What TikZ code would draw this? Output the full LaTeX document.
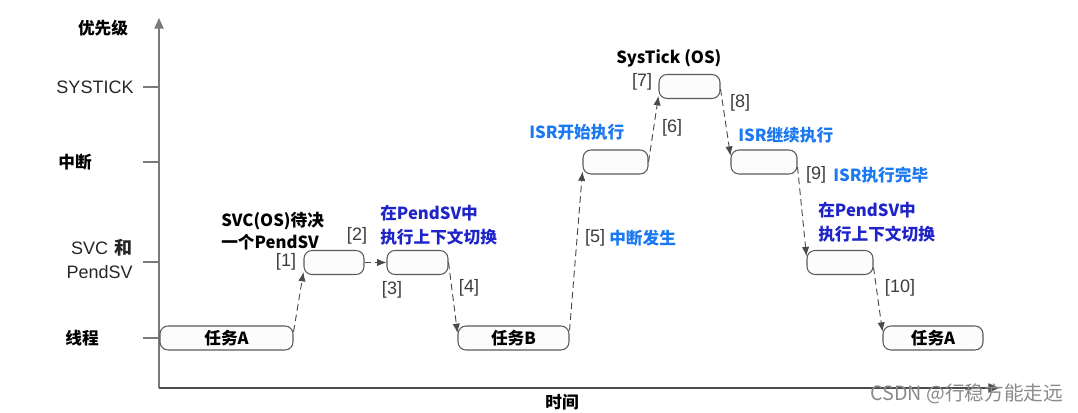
\documentclass[tikz,border=0pt]{standalone}
\usepackage{fontspec}
\setmainfont{Liberation Sans}
\newfontfamily\cjk{Noto Sans CJK SC}
\usetikzlibrary{arrows.meta,calc}
\definecolor{boxgray}{HTML}{5A5A5A}
\definecolor{boxfill}{HTML}{FCFCFC}
\definecolor{axisgray}{HTML}{7A7A7A}
\definecolor{flowgray}{HTML}{4A4A4A}
\definecolor{darkblue}{HTML}{1F24C8}
\definecolor{lightblue}{HTML}{1A78F0}
\definecolor{numgray}{HTML}{3C3C3C}
\definecolor{wmgray}{HTML}{8A8A8A}
\begin{document}
\begin{tikzpicture}[x=0.75pt,y=-0.75pt,
  box/.style={draw=boxgray,line width=0.8pt,rounded corners=6pt,fill=boxfill,minimum height=18pt,inner sep=0pt,font=\cjk\bfseries\fontsize{12.5}{14}\selectfont},
  flow/.style={draw=flowgray,line width=0.7pt,dash pattern=on 5pt off 3pt,-{Latex[length=7pt,width=5.5pt]}},
  axis/.style={draw=axisgray,line width=1pt},
  tick/.style={draw=axisgray,line width=0.9pt},
  cjklab/.style={font=\cjk\bfseries\fontsize{12.5}{14}\selectfont,inner sep=0pt},
  axlab/.style={font=\fontsize{13.5}{16}\selectfont,text=black!85,inner sep=0pt},
  num/.style={font=\fontsize{13.5}{16}\selectfont,text=numgray,inner sep=0pt},
  blab/.style={font=\cjk\bfseries\fontsize{12.5}{18}\selectfont,text=darkblue,align=left,inner sep=0pt,anchor=west},
  lblab/.style={font=\cjk\bfseries\fontsize{12.5}{14}\selectfont,text=lightblue,inner sep=0pt,anchor=west}]
\useasboundingbox (0,0) rectangle (1078,413);
% axes
\coordinate (O) at (159,388);
\coordinate (Ytop) at (159,18);
\coordinate (Xend) at (999,388);
\draw[axis,-{Triangle[length=8pt,width=7pt]}] (O) -- (Ytop);
\draw[draw=black!70,line width=0.9pt,-{Triangle[length=8pt,width=7pt]}] (O) -- (Xend);
% ticks
\foreach \yy in {87,162,262,338} \draw[tick] (143,\yy) -- (159,\yy);
% axis labels
\node[cjklab] (prio) at (103,28) {优先级};
\node[axlab] (lsys) at (95,87) {SYSTICK};
\node[cjklab] (lint) at (75,162) {中断};
\node[axlab,align=right,anchor=east] (lsvc) at (133,259) {SVC\hspace{5pt}{\cjk\bfseries 和}\hspace{7.5pt}\\[2pt]PendSV};
\node[cjklab] (lthr) at (82,338) {线程};
\node[cjklab] (ltime) at (562,402) {时间};
% boxes
\node[box,minimum width=99.75pt] (taskA) at (226.5,338) {任务A\hspace{12pt}};
\node[box,minimum width=45pt] (svc) at (334,262.5) {};
\node[box,minimum width=45.75pt] (psv1) at (417.5,262.5) {};
\node[box,minimum width=83.25pt] (taskB) at (513.5,338) {任务B\hspace{12pt}};
\node[box,minimum width=48.75pt] (isr1) at (615.5,162) {};
\node[box,minimum width=45.75pt] (systick) at (689.5,86.5) {};
\node[box,minimum width=49.5pt] (isr2) at (764,162) {};
\node[box,minimum width=49.5pt] (psv2) at (840,262.5) {};
\node[box,minimum width=75pt] (taskA2) at (933,338) {任务A\hspace{12pt}};
% connectors
\draw[flow] ($(taskA.north east)!0.25!(taskA.south east)$) -- ($(svc.south west)!0.12!(svc.north west)$);
\draw[flow] (svc.east) -- (psv1.west);
\draw[flow] (psv1.east) -- ($(taskB.north west)!0.3!(taskB.south west)$);
\draw[flow] ($(taskB.north east)!0.2!(taskB.south east)$) -- ($(isr1.south west)!0.12!(isr1.north west)$);
\draw[flow] (isr1.east) -- ($(systick.south west)!0.12!(systick.north west)$);
\draw[flow] ($(systick.north east)!0.6!(systick.south east)$) -- ($(isr2.north west)!0.25!(isr2.south west)$);
\draw[flow] ($(isr2.north east)!0.7!(isr2.south east)$) -- ($(psv2.north west)!0.25!(psv2.south west)$);
\draw[flow] ($(psv2.north east)!0.7!(psv2.south east)$) -- ($(taskA2.north west)!0.25!(taskA2.south west)$);
% step numbers
\node[num] (n1) at (286,262) {[1]};
\node[num] (n2) at (357,236) {[2]};
\node[num] (n3) at (392,290) {[3]};
\node[num] (n4) at (469,288) {[4]};
\node[num] (n5) at (595,238) {[5]};
\node[num] (n6) at (672,128) {[6]};
\node[num] (n7) at (642,82) {[7]};
\node[num] (n8) at (740,103) {[8]};
\node[num] (n9) at (816,175) {[9]};
\node[num] (n10) at (900,288) {[10]};
% annotations
\node[cjklab,align=left,anchor=west,font=\cjk\bfseries\fontsize{12.5}{16.5}\selectfont] (tsvc) at (221,231) {SVC(OS)待决\\一个PendSV};
\node[blab] (tpsv1) at (380,225) {在PendSV中\\执行上下文切换};
\node[lblab] (tint) at (609,238) {中断发生};
\node[lblab] (tisr1) at (529,132) {ISR开始执行};
\node[cjklab,anchor=west] (tsys) at (616,58) {SysTick (OS)};
\node[lblab] (tisr2) at (738,135) {ISR继续执行};
\node[lblab] (tisr3) at (833,175) {ISR执行完毕};
\node[blab] (tpsv2) at (818,222) {在PendSV中\\执行上下文切换};
% watermark
\node[font=\cjk\fontsize{14.8}{16}\selectfont,text=wmgray,inner sep=0pt,anchor=west] (wm) at (870,394) {CSDN @行稳方能走远};
\end{tikzpicture}
\end{document}
